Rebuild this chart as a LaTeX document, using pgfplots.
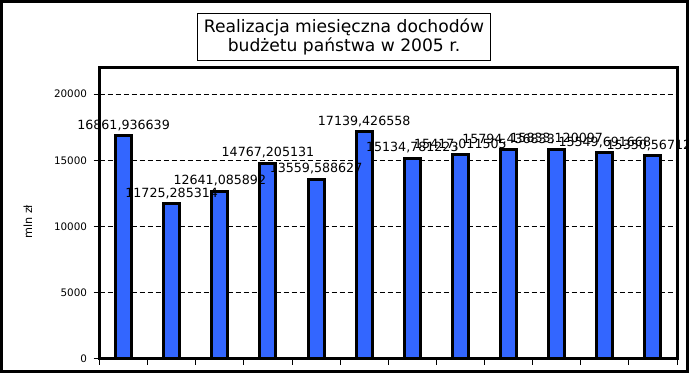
\documentclass[border=0pt]{standalone}
\usepackage{pgfplots}
\pgfplotsset{compat=1.18}
\usepackage{fontspec}
\setmainfont{DejaVu Sans}
\definecolor{barblue}{RGB}{51,102,255}
\begin{document}
\begin{tikzpicture}[x=1bp,y=1bp]
\path[use as bounding box] (0,0) rectangle (689,373);
\begin{axis}[
  at={(99.5bp,14.5bp)}, anchor=south west,
  scale only axis, width=577.5bp, height=290.8bp,
  xmin=0.5, xmax=12.5, ymin=0, ymax=22000,
  ytick={0,5000,10000,15000,20000},
  scaled y ticks=false,
  xtick={0.5,1.5,...,12.5}, xticklabels={},
  ytick pos=left, xtick pos=bottom,
  tick align=outside, major tick length=6bp,
  tick style={black, line width=0.8bp},
  axis line style={line width=3bp},
  ymajorgrids, grid style={black, line width=0.7bp, dash pattern=on 5bp off 3bp},
  /pgf/number format/assume math mode=true,
  /pgf/number format/1000 sep={},
  yticklabel style={font=\fontsize{10.4}{12}\selectfont, xshift=-3bp},
  ylabel={\fontsize{11.3}{13}\selectfont mln zł},
  ylabel style={at={(axis description cs:-0.124,0.47)}, anchor=center},
  title={Realizacja miesięczna dochodów\\budżetu państwa w 2005 r.},
  title style={draw, line width=0.8bp, align=center, font=\fontsize{17.2}{19.5}\selectfont,
    inner xsep=6bp, inner ysep=5.5bp, at={(axis description cs:0.4234,1.085)}, anchor=center},
  ybar, bar width=16bp, bar shift=0pt,
  point meta=explicit symbolic,
  nodes near coords,
  every node near coord/.append style={font=\fontsize{12.7}{14}\selectfont, anchor=base, inner sep=0pt, yshift=6.5bp},
]
\addplot[fill=barblue, draw=black, line width=3bp] table[x=x, y=y, meta=lab] {
x y lab
1 16861.936639 16861,936639
2 11725.285314 11725,285314
3 12641.085892 12641,085892
4 14767.205131 14767,205131
5 13559.588627 13559,588627
6 17139.426558 17139,426558
7 15134.781223 15134,781223
8 15417.011505 15417,011505
9 15794.436833 15794,436833
10 15833.120097 15833,120097
11 15549.691668 15549,691668
12 15350.567122 15350,567122
};
\end{axis}
\draw[line width=3bp] (1.5,1.5) rectangle (687.5,371.5);
\end{tikzpicture}
\end{document}
